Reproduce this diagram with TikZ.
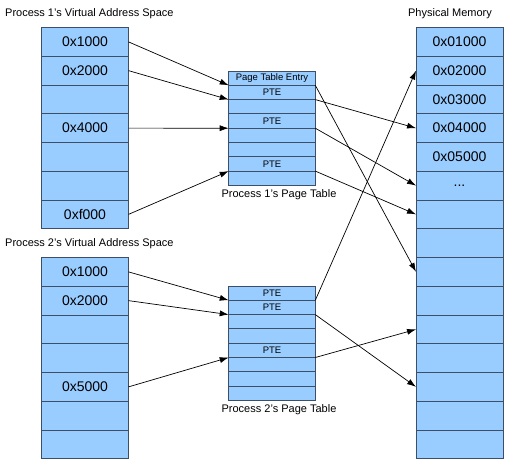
\documentclass[tikz,border=0pt]{standalone}
\usepackage{fontspec}
\setmainfont{Liberation Sans}
\usetikzlibrary{arrows.meta}
\definecolor{cellfill}{HTML}{99CCFF}
\definecolor{cellline}{HTML}{3C4F66}
\newcommand\pmdots{...}
\tikzset{
  cell/.style={draw=cellline, fill=cellfill, line width=0.9pt, inner sep=0pt, outer sep=0pt,
    minimum width=87pt, minimum height=28.75pt, anchor=north west,
    font=\fontsize{14}{16}\selectfont},
  ptcell/.style={draw=cellline, fill=cellfill, line width=0.9pt, inner sep=0pt, outer sep=0pt,
    minimum width=86.6pt, minimum height=14.3pt, anchor=north west,
    font=\fontsize{9.5}{10}\selectfont},
  caption/.style={inner sep=0pt, font=\fontsize{11}{13}\selectfont},
  link/.style={draw=black, line width=0.7pt, -{Latex[length=9pt,width=6pt]}}
}
\begin{document}
\begin{tikzpicture}[x=1pt,y=-1pt]
\useasboundingbox (0,0) rectangle (510,470);
% captions
\node[caption, anchor=west] (c1) at (5,14) {Process 1's Virtual Address Space};
\node[caption, anchor=west] (c2) at (5,244) {Process 2's Virtual Address Space};
\node[caption] (c3) at (450,14) {Physical Memory};
% process 1 virtual
\foreach \i/\t in {1/0x1000,2/0x2000,3/{},4/0x4000,5/{},6/{},7/0xf000}
  \node[cell] (v1r\i) at (41.5,{27.5+(\i-1)*28.75}) {\t};
% process 2 virtual
\foreach \i/\t in {1/0x1000,2/0x2000,3/{},4/{},5/0x5000,6/{},7/{}}
  \node[cell] (v2r\i) at (41.5,{257.5+(\i-1)*28.75}) {\t};
% physical memory
\foreach \i/\t in {1/0x01000,2/0x02000,3/0x03000,4/0x04000,5/0x05000,6/\pmdots,7/{},8/{},9/{},10/{},11/{},12/{},13/{},14/{},15/{}}
  \node[cell] (pm\i) at (416,{27.5+(\i-1)*28.75}) {\t};
% page table 1
\foreach \i/\t in {1/Page Table Entry,2/PTE,3/{},4/PTE,5/{},6/{},7/PTE,8/{}}
  \node[ptcell] (pta\i) at (228.7,{71+(\i-1)*14.3}) {\t};
\node[caption] (c4) at (279,195) {Process 1's Page Table};
% page table 2
\foreach \i/\t in {1/PTE,2/PTE,3/{},4/{},5/PTE,6/{},7/{},8/{}}
  \node[ptcell] (ptb\i) at (228.7,{286+(\i-1)*14.3}) {\t};
\node[caption] (c5) at (279,410) {Process 2's Page Table};
% virtual -> page table 1
\draw[link] (v1r1.east) -- (pta1.south west);
\draw[link] (v1r2.east) -- (pta2.south west);
\draw[link] (v1r4.east) -- (pta4.south west);
\draw[link] (v1r7.east) -- (pta7.south west);
% page table 1 -> physical
\draw[link] (pta1.south east) -- (pm9.west);
\draw[link] (pta2.south east) -- (pm4.west);
\draw[link] (pta4.south east) -- (pm6.west);
\draw[link] (pta7.south east) -- (pm7.west);
% virtual 2 -> page table 2
\draw[link] (v2r1.east) -- (ptb1.south west);
\draw[link] (v2r2.east) -- (ptb2.south west);
\draw[link] (v2r5.east) -- (ptb5.south west);
% page table 2 -> physical
\draw[link] (ptb1.south east) -- (pm2.west);
\draw[link] (ptb2.south east) -- (pm13.west);
\draw[link] (ptb5.south east) -- (pm11.west);
\end{tikzpicture}
\end{document}
